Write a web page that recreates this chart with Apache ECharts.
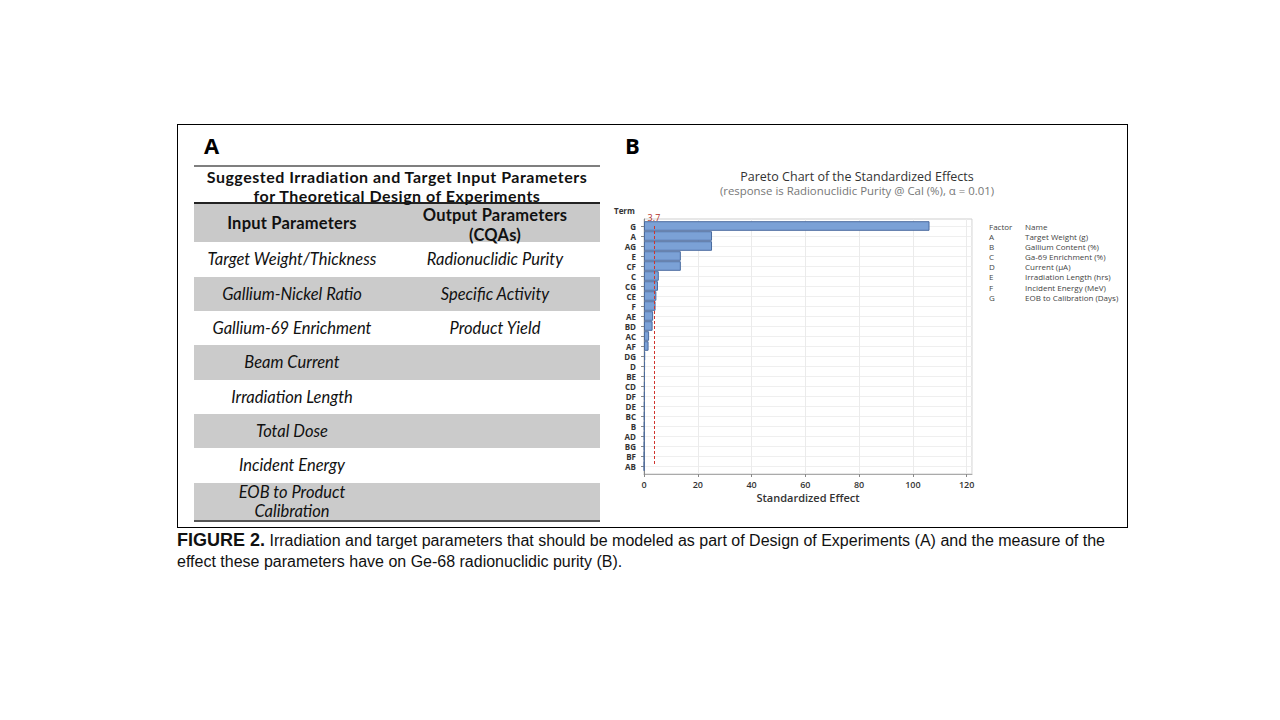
<!DOCTYPE html>
<html>
<head>
<meta charset="utf-8">
<script src="https://cdn.jsdelivr.net/npm/echarts@6/dist/echarts.min.js"></script>
<style>
  html, body { margin:0; padding:0; background:#fff; }
  #wrap { position:relative; width:1280px; height:720px; overflow:hidden; background:#fff; }
  #chart { position:absolute; left:0; top:0; width:1280px; height:720px; }
  .abs { position:absolute; }
  #frame { left:177px; top:124px; width:949px; height:402px; border:1px solid #000; pointer-events:none; }
  .panel { font-family: 'Open Sans', 'Noto Sans', sans-serif; font-weight:700; font-size:22px; color:#000; }
  #tbl { left:194px; top:165px; width:406px; font-family:'Lato','Open Sans',sans-serif; color:#111; }
  #tbl .ttl { height:35px; border-top:2px solid #7f7f7f; border-bottom:2px solid #222; text-align:center; font-weight:700; font-size:16px; letter-spacing:0.5px; line-height:19.3px; white-space:nowrap; overflow:visible; }
  #tbl .ttl div { height:19.3px; }
  #tbl .ttl div:first-child { margin-top:-0.5px; }
  #tbl .row { display:flex; align-items:center; }
  #tbl .c1 { width:196px; text-align:center; white-space:nowrap; }
  #tbl .c2 { width:210px; text-align:center; white-space:nowrap; }
  #tbl .hdr { height:38px; background:#c9c9c9; font-weight:700; font-size:16.5px; letter-spacing:0.2px; line-height:20px; }
  #tbl .hdr > div { position:relative; top:2px; }
  #tbl .hdr > div.c1 { top:0; }
  #tbl .body { font-style:italic; font-size:16.5px; line-height:19px; }
  #tbl .g { background:#cbcbcb; }
  #tbl .last { border-bottom:2px solid #555; }
  #cap { left:177px; top:530px; width:928px; font-family:'Liberation Sans Narrow','Arial Narrow','Liberation Sans',sans-serif; font-size:16px; line-height:21px; color:#111; }
  #cap .l1 { text-align:justify; text-align-last:justify; white-space:nowrap; }
  #cap b { font-family:'Liberation Sans', Arial, sans-serif; font-size:18px; }
</style>
</head>
<body>
<div id="wrap">
  <div id="chart"></div>
  <div id="frame" class="abs"></div>
  <div class="abs panel" style="left:204px; top:130px;">A</div>
  <div class="abs panel" style="left:625px; top:130px;">B</div>
  <div id="tbl" class="abs"></div>
  <div id="cap" class="abs">
    <div class="l1"><b>FIGURE 2.</b> Irradiation and target parameters that should be modeled as part of Design of Experiments (A) and the measure of the</div>
    <div>effect these parameters have on Ge-68 radionuclidic purity (B).</div>
  </div>
</div>
<script>
// ---------- Data ----------
const tableTitle = ['Suggested Irradiation and Target Input Parameters', 'for Theoretical Design of Experiments'];
const tableHeaders = ['Input Parameters', 'Output Parameters<br>(CQAs)'];
const inputParams = ['Target Weight/Thickness', 'Gallium-Nickel Ratio', 'Gallium-69 Enrichment', 'Beam Current',
  'Irradiation Length', 'Total Dose', 'Incident Energy', 'EOB to Product<br>Calibration'];
const outputParams = ['Radionuclidic Purity', 'Specific Activity', 'Product Yield', '', '', '', '', ''];

const terms = ['G', 'A', 'AG', 'E', 'CF', 'C', 'CG', 'CE', 'F', 'AE', 'BD', 'AC', 'AF',
  'DG', 'D', 'BE', 'CD', 'DF', 'DE', 'BC', 'B', 'AD', 'BG', 'BF', 'AB'];
const effects = [106.2, 25.3, 25.3, 13.7, 13.7, 5.5, 5.2, 4.6, 4.3, 3.4, 3.2, 1.9, 1.7,
  0.45, 0.4, 0.36, 0.32, 0.28, 0.25, 0.22, 0.19, 0.16, 0.13, 0.1, 0.08];
const criticalValue = 3.7;
const factorCodes = ['A', 'B', 'C', 'D', 'E', 'F', 'G'];
const factorNames = ['Target Weight (g)', 'Gallium Content (%)', 'Ga-69 Enrichment (%)', 'Current (\u00b5A)',
  'Irradiation Length (hrs)', 'Incident Energy (MeV)', 'EOB to Calibration (Days)'];

// ---------- Table (panel A) ----------
const rowHeights = [35, 34, 34, 35, 34, 34, 35, 37];
let html = '<div class="ttl">' + tableTitle.map(t => '<div>' + t + '</div>').join('') + '</div>';
html += '<div class="row hdr"><div class="c1">' + tableHeaders[0] + '</div><div class="c2">' + tableHeaders[1] + '</div></div>';
inputParams.forEach((p, i) => {
  const cls = 'row body' + (i % 2 === 1 ? ' g' : '') + (i === inputParams.length - 1 ? ' last' : '');
  html += '<div class="' + cls + '" style="height:' + rowHeights[i] + 'px"><div class="c1">' + p + '</div><div class="c2">' + outputParams[i] + '</div></div>';
});
document.getElementById('tbl').innerHTML = html;

// ---------- Chart (panel B) ----------
const chart = echarts.init(document.getElementById('chart'), null, { renderer: 'svg' });
const FONT = "'Open Sans', 'Noto Sans', sans-serif";

const legendGraphics = [
  { type: 'text', left: 989, top: 222, style: { text: 'Factor', font: '8px ' + FONT, fill: '#444' } },
  { type: 'text', left: 1025, top: 222, style: { text: 'Name', font: '8px ' + FONT, fill: '#444' } }
];
factorCodes.forEach((c, i) => {
  legendGraphics.push({ type: 'text', left: 989, top: 232 + i * 10.2, style: { text: c, font: '8px ' + FONT, fill: '#444' } });
  legendGraphics.push({ type: 'text', left: 1025, top: 232 + i * 10.2, style: { text: factorNames[i], font: '8px ' + FONT, fill: '#444' } });
});
legendGraphics.push({ type: 'text', left: 614, top: 206, style: { text: 'Term', font: 'bold 8px ' + FONT, fill: '#333' } });

chart.setOption({
  animation: false,
  textStyle: { fontFamily: FONT },
  title: [
    {
      text: 'Pareto Chart of the Standardized Effects',
      left: 857, top: 170, textAlign: 'center', padding: 0,
      textStyle: { fontSize: 12.5, lineHeight: 13, fontWeight: 'normal', color: '#333', fontFamily: FONT }
    },
    {
      text: '(response is Radionuclidic Purity @ Cal (%), \u03b1 = 0.01)',
      left: 857, top: 184, textAlign: 'center', padding: 0,
      textStyle: { fontSize: 11.4, lineHeight: 12, fontWeight: 'normal', color: '#777', fontFamily: FONT }
    }
  ],
  graphic: legendGraphics,
  grid: [
    { left: 644, right: 308, top: 226, bottom: 254, show: false },
    { left: 644, right: 308, top: 219, bottom: 246, show: true, borderColor: '#cfcfcf', borderWidth: 1 }
  ],
  xAxis: [
    { gridIndex: 0, type: 'value', min: 0, max: 122, show: false },
    {
      gridIndex: 1, type: 'value', min: 0, max: 122, interval: 20,
      axisLine: { show: true, lineStyle: { color: '#aaaaaa' } },
      axisTick: { show: true, length: 3, lineStyle: { color: '#888' } },
      axisLabel: { showMaxLabel: false, margin: 6, fontSize: 9, fontWeight: 600, color: '#333',
        formatter: v => (v % 20 === 0 ? String(v) : '') },
      splitLine: { show: true, lineStyle: { color: '#ebebeb' } },
      name: 'Standardized Effect', nameLocation: 'middle', nameGap: 18,
      nameTextStyle: { fontSize: 11, fontWeight: 600, color: '#333' }
    }
  ],
  yAxis: [
    {
      gridIndex: 0, type: 'category', data: terms, inverse: true, boundaryGap: false,
      axisLine: { show: false },
      axisTick: { show: true, length: 3, interval: 0, lineStyle: { color: '#888' } },
      axisLabel: { interval: 0, fontSize: 8, fontWeight: 'bold', color: '#333', margin: 8 },
      splitLine: { show: true, interval: 0, lineStyle: { color: '#efefef' } }
    },
    {
      gridIndex: 1, type: 'value', min: 0, max: 1,
      axisLine: { show: true, lineStyle: { color: '#888' } },
      axisTick: { show: false }, axisLabel: { show: false }, splitLine: { show: false }
    }
  ],
  series: [{
    type: 'bar', xAxisIndex: 0, yAxisIndex: 0, data: effects, clip: false,
    barCategoryGap: '4%',
    itemStyle: { color: '#7ba1d6', borderColor: '#4a6b9f', borderWidth: 1 },
    markLine: {
      silent: true, symbol: 'none',
      lineStyle: { color: '#d0352d', type: [3, 2], width: 1 },
      label: { show: true, position: 'start', formatter: String(criticalValue), color: '#b3302a', fontSize: 9, distance: 4 },
      data: [{ xAxis: criticalValue }]
    }
  }]
});
</script>
</body>
</html>
